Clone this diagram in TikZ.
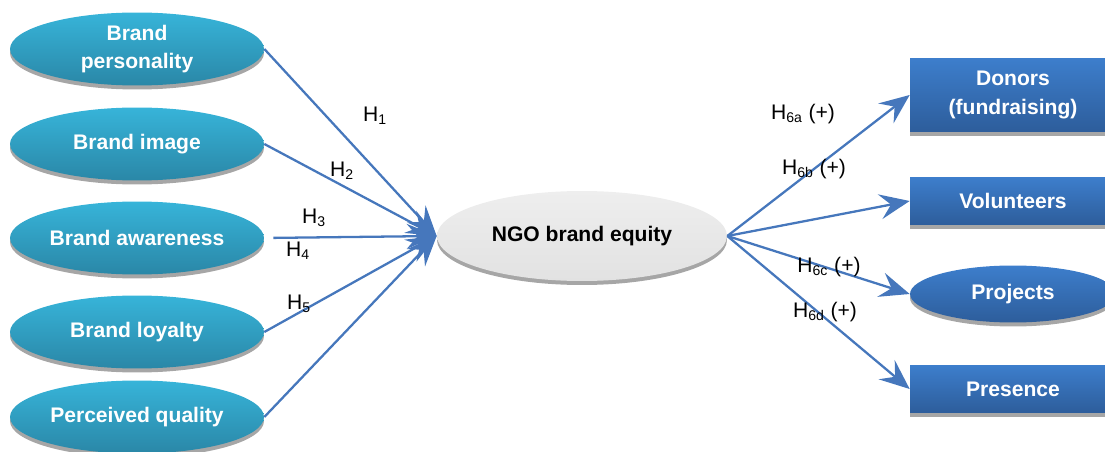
\documentclass[tikz,border=0pt]{standalone}
\usepackage{fontspec}
\setmainfont{Liberation Sans}
\usetikzlibrary{shapes.geometric,arrows.meta,shadows}
\definecolor{ovaltop}{HTML}{37B4D9}
\definecolor{ovalbot}{HTML}{2A87A7}
\definecolor{boxtop}{HTML}{3D7ECC}
\definecolor{boxbot}{HTML}{2D5D9B}
\definecolor{coretop}{HTML}{EEEEEE}
\definecolor{corebot}{HTML}{E2E2E2}
\definecolor{shadowgray}{HTML}{A6A6A6}
\definecolor{linkblue}{HTML}{4677BC}
\tikzset{
  boxshadow/.style={drop shadow={shadow xshift=0pt, shadow yshift=-0.08cm, fill=shadowgray, opacity=1}},
  factor/.style={ellipse, draw=none, top color=ovaltop, bottom color=ovalbot, text=white,
    font=\bfseries\fontsize{12}{14}\selectfont, minimum width=5.08cm, minimum height=1.46cm,
    inner sep=0pt, align=center, boxshadow},
  outcome/.style={rectangle, draw=none, top color=boxtop, bottom color=boxbot, text=white,
    font=\bfseries\fontsize{12}{14}\selectfont, minimum width=4.12cm, inner sep=0pt,
    align=center, boxshadow},
  link/.style={draw=linkblue, line width=1.3pt, -{Stealth[length=0.6cm,width=0.5cm,inset=0.22cm]}},
  hyp/.style={font=\fontsize{12}{14}\selectfont, inner sep=0pt}
}
\begin{document}
\begin{tikzpicture}[x=0.02cm, y=-0.02cm]
    \useasboundingbox (0,0) rectangle (1105,452);
    % antecedents
    \node[factor] (pers) at (137,49) {Brand\\[2pt]personality};
    \node[factor] (img) at (137,144) {Brand image};
    \node[factor] (aware) at (137,238) {Brand awareness};
    \node[factor] (loyal) at (137,332) {Brand loyalty};
    \node[factor] (qual) at (137,417) {Perceived quality};
    % centre
    \node[ellipse, draw=none, top color=coretop, bottom color=corebot, boxshadow,
        minimum width=5.8cm, minimum height=1.8cm, inner sep=0pt,
        font=\bfseries\fontsize{12}{14}\selectfont] (equity) at (582,236) {NGO brand equity};
    % outcomes
    \node[outcome, minimum height=1.48cm] (donors) at (1013,95) {Donors\\[2pt](fundraising)};
    \node[outcome, minimum height=0.96cm] (vol) at (1013,201) {Volunteers};
    \node[outcome, ellipse, minimum height=1.14cm] (proj) at (1013,294) {Projects};
    \node[outcome, minimum height=0.96cm] (pres) at (1013,389) {Presence};
    % paths
    \draw[link] (pers.east) -- (equity.west);
    \draw[link] (img.east) -- (equity.west);
    \draw[link, shorten <=0.18cm] (aware.east) -- (equity.west);
    \draw[link] (loyal.east) -- (equity.west);
    \draw[link] (qual.east) -- (equity.west);
    \draw[link] (equity.east) -- (donors.west);
    \draw[link] (equity.east) -- (vol.west);
    \draw[link] (equity.east) -- (proj.west);
    \draw[link] (equity.east) -- (pres.west);
    % hypotheses
    \node[hyp] (h1) at (375,116) {H\textsubscript{1}};
    \node[hyp] (h2) at (342,171) {H\textsubscript{2}};
    \node[hyp] (h3) at (314,218) {H\textsubscript{3}};
    \node[hyp] (h4) at (298,251) {H\textsubscript{4}};
    \node[hyp] (h5) at (299,304) {H\textsubscript{5}};
    \node[hyp] (h6a) at (803,114) {H\textsubscript{6a} (+)};
    \node[hyp] (h6b) at (814,169) {H\textsubscript{6b} (+)};
    \node[hyp] (h6c) at (829,267) {H\textsubscript{6c} (+)};
    \node[hyp] (h6d) at (825,312) {H\textsubscript{6d} (+)};
\end{tikzpicture}
\end{document}
